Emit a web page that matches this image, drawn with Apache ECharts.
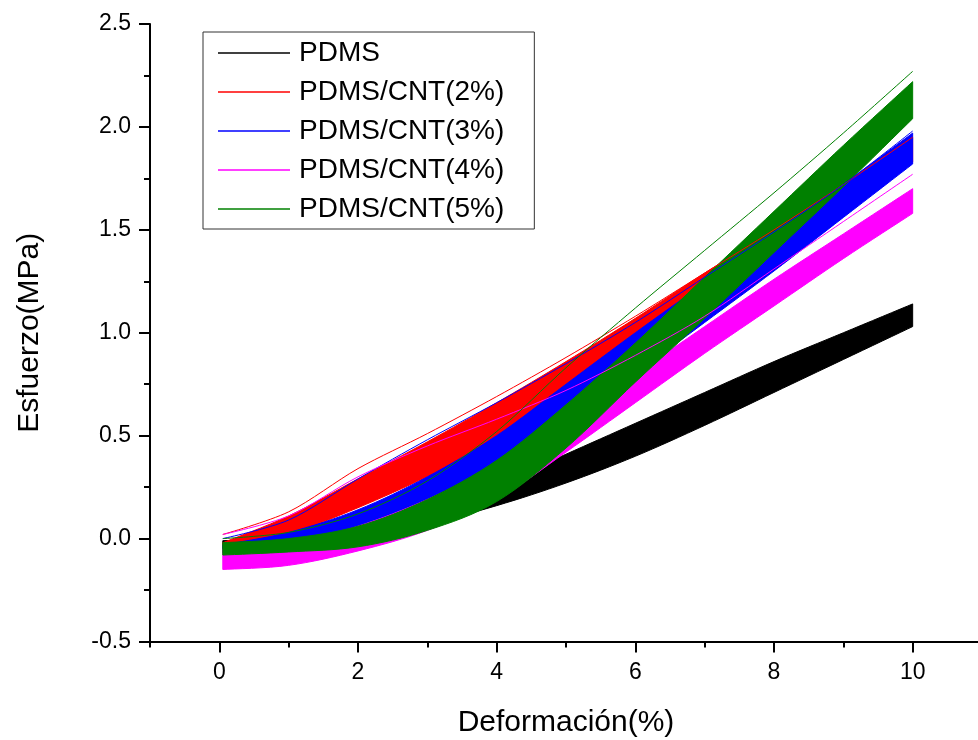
<!DOCTYPE html>
<html>
<head>
<meta charset="utf-8">
<script src="https://cdn.jsdelivr.net/npm/echarts@6/dist/echarts.min.js"></script>
<style>html,body{margin:0;padding:0;background:#fff;}#c{width:978px;height:740px;}</style>
</head>
<body>
<div id="c"></div>
<script>
// Strain samples (%)
const strain = [0.05, 1, 2, 3, 4, 5, 6, 7, 8, 9, 10];
// Lower / upper envelopes of each cyclic band (MPa)
const pdmsLow  = [-0.06, -0.04, 0.00, 0.07, 0.16, 0.27, 0.40, 0.55, 0.71, 0.87, 1.03];
const pdmsHigh = [-0.01,  0.00, 0.05, 0.13, 0.26, 0.41, 0.56, 0.71, 0.86, 1.00, 1.14];
const cnt2Low  = [-0.07,  0.02, 0.15, 0.30, 0.46, 0.64, 0.86, 1.08, 1.32, 1.57, 1.83];
const cnt2High = [-0.02,  0.11, 0.29, 0.47, 0.66, 0.86, 1.07, 1.29, 1.50, 1.72, 1.95];
const cnt3Low  = [-0.07, -0.03, 0.04, 0.15, 0.33, 0.55, 0.80, 1.05, 1.30, 1.56, 1.82];
const cnt3High = [-0.03,  0.03, 0.14, 0.30, 0.50, 0.75, 1.00, 1.24, 1.47, 1.72, 1.97];
const cnt4Low  = [-0.15, -0.13, -0.06, 0.04, 0.19, 0.42, 0.66, 0.90, 1.13, 1.36, 1.58];
const cnt4High = [-0.05, -0.03, 0.06, 0.19, 0.36, 0.57, 0.80, 1.03, 1.26, 1.48, 1.70];
const cnt5Low  = [-0.08, -0.065, -0.04, 0.04, 0.18, 0.44, 0.76, 1.07, 1.39, 1.71, 2.04];
const cnt5High = [-0.02,  0.00, 0.06, 0.19, 0.38, 0.65, 0.95, 1.27, 1.59, 1.91, 2.22];
// First-cycle curves lying outside the bands
const cnt2First = [0.02, 0.13, 0.34, 0.51, 0.69, 0.88, 1.08, 1.29, 1.50, 1.72, 1.95];
const cnt3First = [0.00, 0.09, 0.29, 0.48, 0.66, 0.85, 1.05, 1.27, 1.49, 1.72, 1.98];
const cnt4First = [0.02, 0.11, 0.30, 0.45, 0.58, 0.72, 0.89, 1.08, 1.31, 1.54, 1.77];
const cnt5First = [0.00, 0.03, 0.12, 0.28, 0.52, 0.83, 1.12, 1.40, 1.68, 1.97, 2.27];

const names = ['PDMS', 'PDMS/CNT(2%)', 'PDMS/CNT(3%)', 'PDMS/CNT(4%)', 'PDMS/CNT(5%)'];
const colors = ['#000000', '#ff0000', '#0000ff', '#ff00ff', '#008000'];
const xMajor = [0, 2, 4, 6, 8, 10];
const xMinor = [-1, 1, 3, 5, 7, 9];
const yMin = -0.5, yMax = 2.5, yStep = 0.5;

const bands = [[pdmsLow, pdmsHigh], [cnt2Low, cnt2High], [cnt3Low, cnt3High], [cnt4Low, cnt4High], [cnt5Low, cnt5High]];
const firsts = [null, cnt2First, cnt3First, cnt4First, cnt5First];

// Catmull-Rom curve through pixel points (rendering only)
function splinePx(P, steps) {
  const out = [], n = P.length;
  for (let i = 0; i < n - 1; i++) {
    const p0 = P[Math.max(i - 1, 0)], p1 = P[i], p2 = P[i + 1], p3 = P[Math.min(i + 2, n - 1)];
    for (let s = 0; s < steps; s++) {
      const t = s / steps, t2 = t * t, t3 = t2 * t;
      const f = d => 0.5 * (2 * p1[d] + (-p0[d] + p2[d]) * t + (2 * p0[d] - 5 * p1[d] + 4 * p2[d] - p3[d]) * t2 + (-p0[d] + 3 * p1[d] - 3 * p2[d] + p3[d]) * t3);
      out.push([f(0), f(1)]);
    }
  }
  out.push(P[n - 1]);
  return out;
}

const series = [];
// Filled bands (one item per band: x, low, high triplets)
bands.forEach((b, i) => {
  const lo = b[0], hi = b[1];
  const item = [];
  strain.forEach((x, k) => { item.push(x, lo[k], hi[k]); });
  const col = colors[i];
  const n = strain.length;
  series.push({
    name: names[i], type: 'custom', z: 10 + i, clip: true,
    itemStyle: { color: col },
    encode: { x: strain.map((_, k) => 3 * k), y: strain.map((_, k) => 3 * k + 1) },
    renderItem: function (params, api) {
      const L = [], H = [];
      for (let k = 0; k < n; k++) {
        L.push(api.coord([api.value(3 * k), api.value(3 * k + 1)]));
        H.push(api.coord([api.value(3 * k), api.value(3 * k + 2)]));
      }
      const pts = splinePx(L, 8).concat(splinePx(H, 8).reverse());
      return { type: 'polygon', shape: { points: pts }, style: { fill: col, stroke: col, lineWidth: 1 } };
    },
    data: [item]
  });
});
// First cycles on top
firsts.forEach((f, i) => {
  if (!f) return;
  series.push({
    name: names[i], type: 'line', symbol: 'none', z: 30, smooth: 0.3,
    lineStyle: { color: colors[i], width: 1 }, itemStyle: { color: colors[i] },
    data: strain.map((x, k) => [x, f[k]])
  });
});

const font = 'Liberation Sans';
const chart = echarts.init(document.getElementById('c'), null, { renderer: 'canvas' });
chart.setOption({
  animation: false,
  backgroundColor: '#ffffff',
  grid: { left: 150, right: -4, top: 24, bottom: 98.5, containLabel: false, outerBoundsMode: 'none' },
  legend: {
    orient: 'vertical', left: 203, top: 32, z: 50,
    backgroundColor: '#ffffff', borderColor: '#333333', borderWidth: 1, borderRadius: 0,
    padding: [7, 30, 6, 15],
    itemWidth: 72, itemHeight: 28, itemGap: 11,
    icon: 'path://M0,0L100,0L100,2L0,2Z',
    data: names,
    textStyle: { fontFamily: font, fontSize: 28, color: '#000', lineHeight: 28, padding: [0, 0, 0, 4] }
  },
  xAxis: [{
    type: 'value', min: -1, max: 11, position: 'bottom',
    name: 'Deformación(%)', nameLocation: 'middle', nameGap: 66,
    nameTextStyle: { fontFamily: font, fontSize: 30, color: '#000' },
    axisLine: { show: true, onZero: false, lineStyle: { color: '#000', width: 2 } },
    axisTick: { show: true, length: 11, customValues: xMajor, lineStyle: { color: '#000', width: 2 } },
    axisLabel: { customValues: xMajor, margin: 20, fontFamily: font, fontSize: 23, color: '#000' },
    splitLine: { show: false }
  }, {
    type: 'value', min: -1, max: 11, position: 'bottom',
    axisLine: { show: false, onZero: false },
    axisTick: { show: true, length: 6, customValues: xMinor, lineStyle: { color: '#000', width: 2 } },
    axisLabel: { show: false },
    splitLine: { show: false }
  }],
  yAxis: {
    type: 'value', min: yMin, max: yMax, interval: yStep,
    name: 'Esfuerzo(MPa)', nameLocation: 'middle', nameGap: 105,
    nameTextStyle: { fontFamily: font, fontSize: 30, color: '#000' },
    axisLine: { show: true, onZero: false, lineStyle: { color: '#000', width: 2 } },
    axisTick: { show: true, length: 11, lineStyle: { color: '#000', width: 2 } },
    minorTick: { show: true, splitNumber: 2, length: 6, lineStyle: { color: '#000', width: 2 } },
    axisLabel: { margin: 19, fontFamily: font, fontSize: 23, color: '#000', formatter: v => v.toFixed(1) },
    splitLine: { show: false }
  },
  series: series
});
</script>
</body>
</html>
